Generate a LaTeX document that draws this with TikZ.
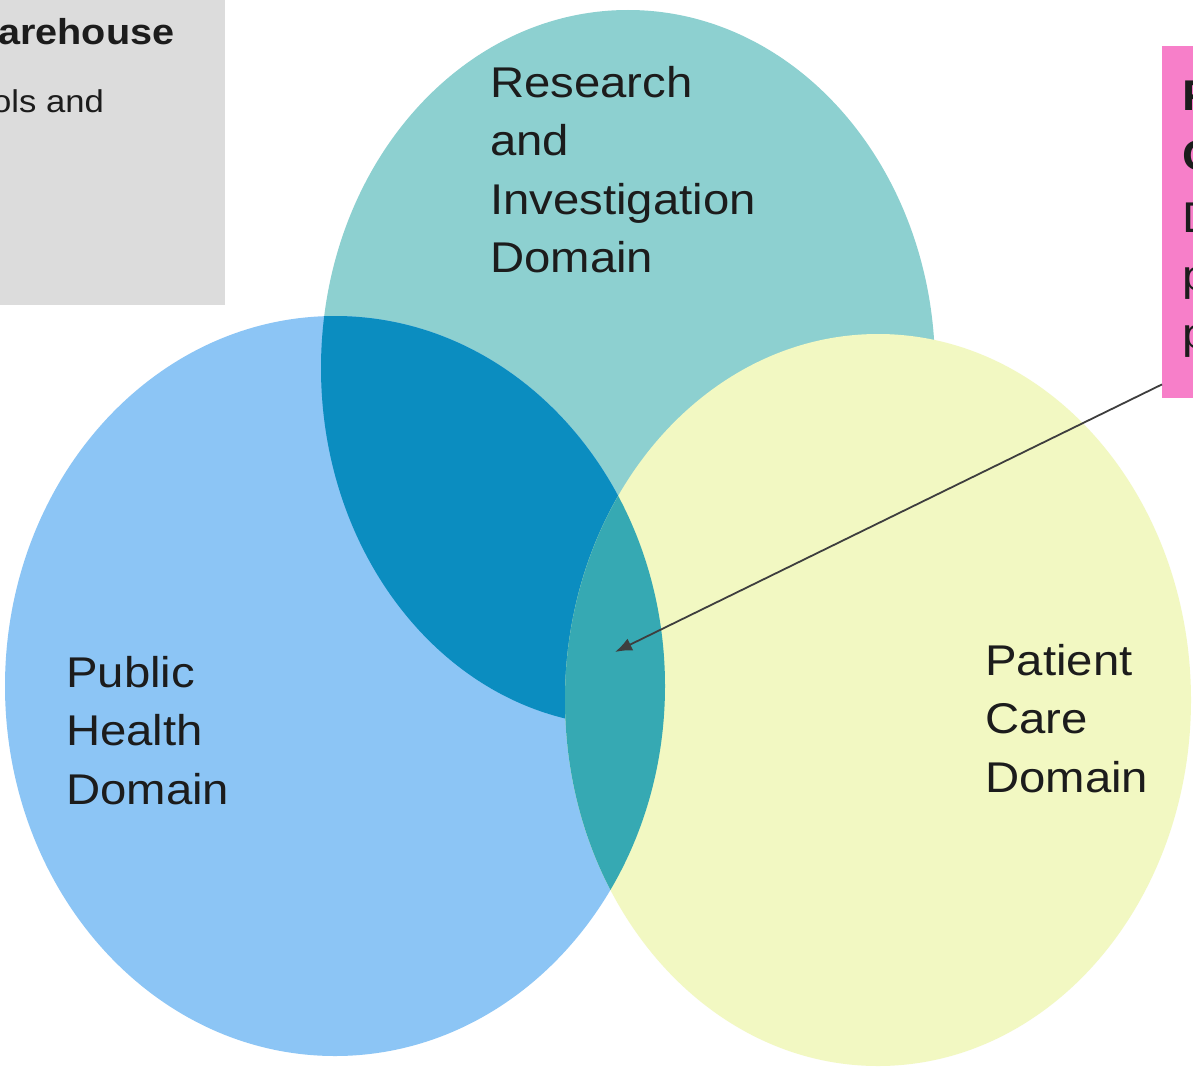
\documentclass[tikz,border=0pt]{standalone}
\usepackage{fontspec}
\setmainfont{Liberation Sans}
\newfontfamily\labfont{Liberation Sans}[FakeStretch=1.1]
\usetikzlibrary{arrows.meta}

\definecolor{resteal}{HTML}{8DD0D0}
\definecolor{pubblue}{HTML}{8CC5F5}
\definecolor{deepblue}{HTML}{0B8DC0}
\definecolor{careyellow}{HTML}{F2F8C2}
\definecolor{midteal}{HTML}{36A9B3}
\definecolor{notepink}{HTML}{F77FC9}
\definecolor{notegray}{HTML}{DCDCDC}
\definecolor{inkdark}{HTML}{1C1C1C}

\tikzset{
  domainlabel/.style={anchor=north west, inner sep=0pt, align=left,
    text=inkdark, font=\labfont\fontsize{43}{58.5}\selectfont},
  boxtext/.style={anchor=base west, inner sep=0pt, text=inkdark},
  arrowline/.style={draw=inkdark!85, line width=1.8pt,
    -{Latex[length=17pt,width=13pt]}},
}

\begin{document}
\begin{tikzpicture}[x=1pt,y=-1pt]
  % canvas
  \fill[white] (0,0) rectangle (1193,1081);
  \useasboundingbox (0,0) rectangle (1193,1081);
  \clip (0,0) rectangle (1193,1081);

  % grey note in the upper left corner
  \node[fill=notegray, anchor=south east, minimum width=245pt,
        minimum height=320pt, inner sep=0pt] (dwbox) at (225,305) {};
  \node[boxtext, font=\labfont\bfseries\fontsize{36}{40}\selectfont]
       (dwtitle) at (-2,45) {arehouse};
  \node[boxtext, font=\labfont\fontsize{31.5}{36}\selectfont]
       (dwline) at (-8,112) {ols and};

  % Research and Investigation domain
  \fill[resteal] (628,368) ellipse [x radius=307pt, y radius=358pt];
  % Public Health domain
  \fill[pubblue] (335,686) ellipse [x radius=330pt, y radius=370pt];
  \begin{scope}
    \clip (628,368) ellipse [x radius=307pt, y radius=358pt];
    \fill[deepblue] (335,686) ellipse [x radius=330pt, y radius=370pt];
  \end{scope}
  % Patient Care domain
  \fill[careyellow] (878,700) ellipse [x radius=313pt, y radius=366pt];
  \begin{scope}
    \clip (878,700) ellipse [x radius=313pt, y radius=366pt];
    \fill[midteal] (335,686) ellipse [x radius=330pt, y radius=370pt];
  \end{scope}

  % domain labels
  \node[domainlabel] (research) at (490,66)
       {Research\\and\\Investigation\\Domain};
  \node[domainlabel] (public) at (66,656)
       {Public\\Health\\Domain};
  \node[domainlabel] (patient) at (985,644)
       {Patient\\Care\\Domain};

  % pink note on the right edge
  \node[fill=notepink, anchor=north west, minimum width=60pt,
        minimum height=352pt, inner sep=0pt] (pk) at (1162,46) {};
  \node[boxtext, font=\labfont\bfseries\fontsize{43}{50}\selectfont]
       (pkA) at (1182,110) {F};
  \node[boxtext, font=\labfont\bfseries\fontsize{43}{50}\selectfont]
       (pkB) at (1182,170) {C};
  \node[boxtext, font=\labfont\fontsize{43}{50}\selectfont]
       (pkC) at (1182,232) {D};
  \node[boxtext, font=\labfont\fontsize{43}{50}\selectfont]
       (pkD) at (1182,290) {p};
  \node[boxtext, font=\labfont\fontsize{43}{50}\selectfont]
       (pkE) at (1182,348) {p};

  % pointer into the shared region
  \path (pk.south west) ++(0,-14) coordinate (src);
  \coordinate (tip) at (615,652);
  \draw[arrowline] (src) -- (tip);
\end{tikzpicture}
\end{document}
